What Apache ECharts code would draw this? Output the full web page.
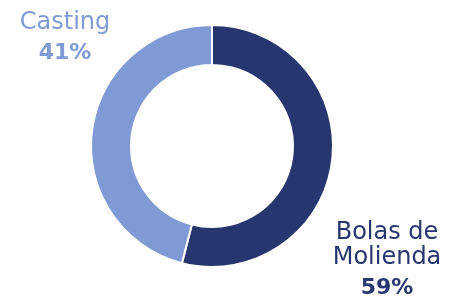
<!DOCTYPE html>
<html>
<head>
<meta charset="utf-8">
<script src="https://cdn.jsdelivr.net/npm/echarts@6/dist/echarts.min.js"></script>
<style>
html,body{margin:0;padding:0;background:#fff;}
#chart{width:462px;height:301px;}
</style>
</head>
<body>
<div id="chart"></div>
<script>
// Category names, arc sizes as drawn in the picture, and the percentages printed in the labels
var categories = ['Bolas de\nMolienda', 'Casting'];
var arcValues = [54, 46];
var labelPercents = ['59%', '41%'];
var colors = ['#283670', '#7F9AD4'];

var chart = echarts.init(document.getElementById('chart'));
var data = categories.map(function (c, i) {
  return {
    name: c,
    value: arcValues[i],
    pct: labelPercents[i],
    itemStyle: { color: colors[i] },
    label: { color: colors[i] }
  };
});
var labelPos = [
  { x: 387, y: 220 },
  { x: 65, y: 10 }
];
chart.setOption({
  animation: false,
  series: [{
    type: 'pie',
    center: [212, 146],
    radius: [81, 121],
    startAngle: 90,
    clockwise: true,
    silent: true,
    avoidLabelOverlap: false,
    itemStyle: { borderColor: '#ffffff', borderWidth: 2 },
    labelLine: { show: false },
    label: {
      show: true,
      position: 'outside',
      overflow: 'none',
      fontFamily: 'DejaVu Sans',
      formatter: function (p) {
        return '{n|' + p.name + '}\n{p|' + p.data.pct + '}';
      },
      rich: {
        n: { fontSize: 24, lineHeight: 25, fontFamily: 'DejaVu Sans', align: 'center' },
        p: { fontSize: 22, lineHeight: 37, fontWeight: 'bold', fontFamily: 'DejaVu Sans', align: 'center' }
      },
      align: 'center'
    },
    labelLayout: function (params) {
      var pos = labelPos[params.dataIndex];
      return { x: pos.x, y: pos.y, align: 'center', verticalAlign: 'top' };
    },
    data: data
  }]
});
</script>
</body>
</html>
